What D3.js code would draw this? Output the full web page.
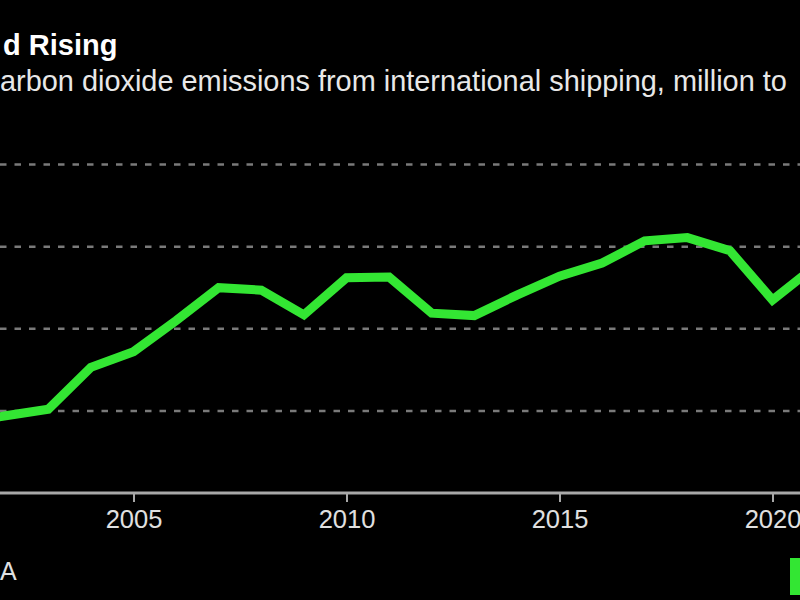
<!DOCTYPE html>
<html>
<head>
<meta charset="utf-8">
<script src="https://cdn.jsdelivr.net/npm/d3@7"></script>
<style>
  html, body { margin: 0; padding: 0; background: #000; }
  svg { display: block; }
  text { font-family: "Liberation Sans", Arial, Helvetica, sans-serif; }
</style>
</head>
<body>
<svg id="chart" width="800" height="600"></svg>
<script>
// ---- data ----
const years = [2001, 2002, 2003, 2004, 2005, 2006, 2007, 2008, 2009, 2010, 2011,
               2012, 2013, 2014, 2015, 2016, 2017, 2018, 2019, 2020, 2021];
const emissions = [485, 494, 502, 553, 572, 610, 650, 647, 617, 662, 663,
                   619, 616, 641, 664, 680, 707, 711, 695, 635, 676];
const gridValues = [500, 600, 700, 800];
const xTicks = [2005, 2010, 2015, 2020];
const titleText = "d Rising";
const subtitleText = "arbon dioxide emissions from international shipping, million to";
const sourceText = "A";

const GREEN = "#33e633";
const svg = d3.select("#chart");
svg.append("rect").attr("width", 800).attr("height", 600).attr("fill", "#000");

const x = d3.scaleLinear().domain([2005, 2020]).range([133.5, 772.5]);
const y = d3.scaleLinear().domain([400, 800]).range([493, 164.5]);

// title & subtitle
svg.append("text").attr("x", 3).attr("y", 55)
  .attr("fill", "#fff").attr("font-size", 29).attr("font-weight", "bold")
  .text(titleText);
svg.append("text").attr("x", 0).attr("y", 91)
  .attr("fill", "#e8e8e8").attr("font-size", 28.9)
  .text(subtitleText);

// gridlines
svg.append("g").selectAll("line").data(gridValues).join("line")
  .attr("x1", 0).attr("x2", 800)
  .attr("y1", d => y(d)).attr("y2", d => y(d))
  .attr("stroke", "#7a7a7a").attr("stroke-width", 2.5)
  .attr("stroke-dasharray", "6.5,8");

// x axis
const xAxis = d3.axisBottom(x).tickValues(xTicks).tickFormat(d3.format("d"))
  .tickSize(9).tickSizeOuter(0).tickPadding(8);
const gx = svg.append("g").attr("transform", `translate(0,${y(400)})`).call(xAxis);
gx.select(".domain").remove();
gx.insert("line", ":first-child").attr("x1", 0).attr("x2", 800)
  .attr("stroke", "#a8a8a8").attr("stroke-width", 3);
gx.selectAll(".tick line").attr("stroke", "#a8a8a8").attr("stroke-width", 2);
gx.selectAll(".tick text").attr("fill", "#e0e0e0").attr("font-size", 25.5)
  .attr("font-family", "Liberation Sans, Arial, sans-serif");

// line
const data = years.map((yr, i) => ({ yr, v: emissions[i] }));
const line = d3.line().x(d => x(d.yr)).y(d => y(d.v));
svg.append("path").datum(data)
  .attr("d", line).attr("fill", "none")
  .attr("stroke", GREEN).attr("stroke-width", 9)
  .attr("stroke-linejoin", "miter");

// source fragment & legend swatch
svg.append("text").attr("x", 0).attr("y", 580)
  .attr("fill", "#e0e0e0").attr("font-size", 25).text(sourceText);
svg.append("rect").attr("x", 790).attr("y", 558).attr("width", 20).attr("height", 37)
  .attr("fill", GREEN);
</script>
</body>
</html>
